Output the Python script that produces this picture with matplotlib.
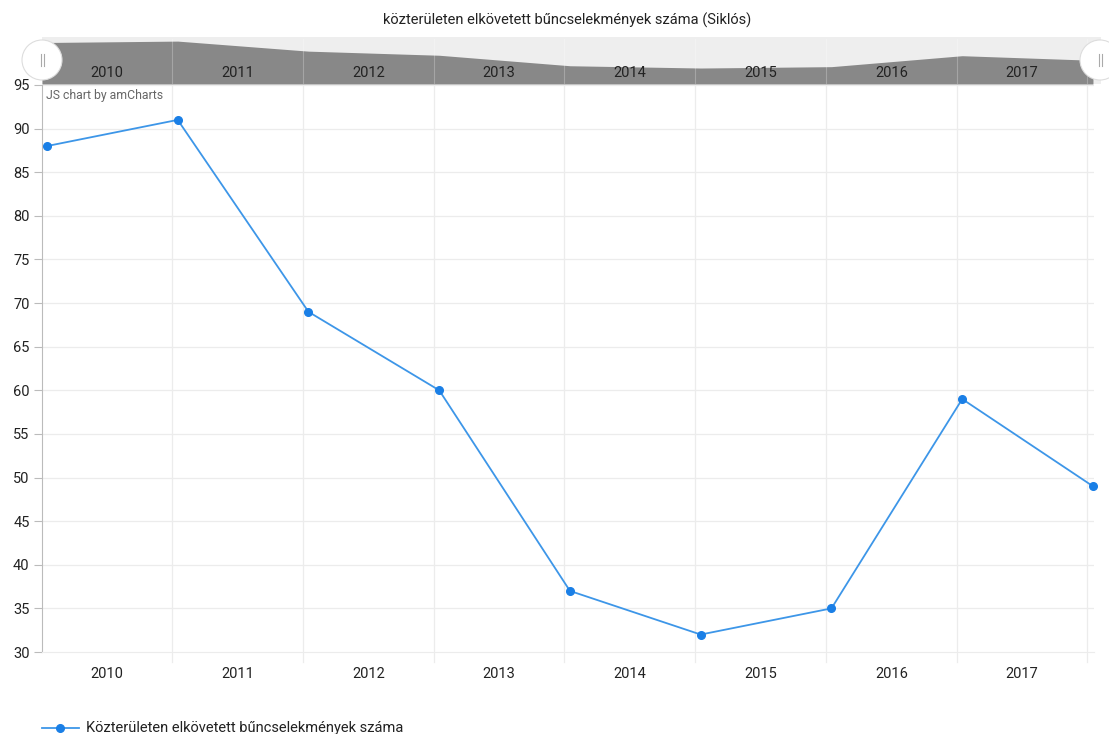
import numpy as np
import matplotlib
matplotlib.use("Agg")
import matplotlib.pyplot as plt
from matplotlib.patches import Circle, Rectangle

plt.rcParams['font.family'] = ['Roboto', 'DejaVu Sans']

# data
years = ['2010', '2011', '2012', '2013', '2014', '2015', '2016', '2017']
values = [88, 91, 69, 60, 37, 32, 35, 59, 49]
title = "közterületen elkövetett bűncselekmények száma (Siklós)"
series_name = "Közterületen elkövetett bűncselekmények száma"

W, H = 1109, 734
fig = plt.figure(figsize=(W / 100, H / 100), dpi=100)
fig.patch.set_facecolor('white')

line_col = '#3d96e8'
dot_col = '#1a7fe6'
grid_col = '#ececec'
text_col = '#222222'

x = np.arange(len(values))
x_left = -0.038
grid_x = np.arange(1, len(years) + 1) - 0.042
label_x = (np.concatenate([[x_left], grid_x[:-1]]) + grid_x) / 2
px_per_unit = 130.75

# px -> figure fraction helper
def box(x0, y0, x1, y1):
    return [x0 / W, 1 - y1 / H, (x1 - x0) / W, (y1 - y0) / H]

# main plot
ax = fig.add_axes(box(42, 85, 1094, 652))
ax.set_xlim(x_left, x_left + (1094 - 42) / px_per_unit)
ax.set_ylim(30, 95)
ax.set_yticks(np.arange(30, 96, 5))
ax.set_xticks(label_x)
ax.set_xticklabels(years)
for gx in grid_x:
    ax.plot([gx, gx], [28.9, 95], color=grid_col, lw=0.9, zorder=0, clip_on=False)
for gy in np.arange(35, 96, 5):
    ax.axhline(gy, color=grid_col, lw=0.9, zorder=0)
ax.plot(x, values, color=line_col, lw=1.3, marker='o', ms=5.5,
        markerfacecolor=dot_col, markeredgecolor=dot_col, zorder=3, clip_on=False)
for s in ['top', 'right']:
    ax.spines[s].set_visible(False)
ax.spines['bottom'].set_color(grid_col)
ax.spines['left'].set_color('#bbbbbb')
ax.tick_params(axis='y', length=6, color='#bbbbbb', labelsize=10.5, labelcolor=text_col, pad=3)
ax.tick_params(axis='x', length=0, labelsize=10.5, labelcolor=text_col, pad=11)
ax.text(4 / 1052, 0.993, "JS chart by amCharts", transform=ax.transAxes,
        ha='left', va='top', fontsize=8.8, color='#666666')

# scrollbar
sb = fig.add_axes(box(42, 37, 1101, 84))
sb.set_xlim(x_left, x_left + (1101 - 42) / px_per_unit)
sb.set_ylim(-3, 100)
sb.axis('off')
sb.add_patch(Rectangle((x_left, -3), 8.2, 103, color='#eeeeee', zorder=0))
sb.fill_between(np.concatenate([[x_left], x]), [values[0]] + values, -3,
                color='#888888', lw=0, zorder=1)
for gx in grid_x:
    sb.axvline(gx, ymax=0.95, color='white', alpha=0.25, lw=0.8, zorder=2)
for lx, lab in zip(label_x, years):
    sb.text(lx, 22, lab, ha='center', va='center', fontsize=10.5, color='#222222', zorder=3)

# overlay for title, handles and legend (pixel coordinates)
ov = fig.add_axes([0, 0, 1, 1], zorder=10)
ov.set_xlim(0, W)
ov.set_ylim(H, 0)
ov.axis('off')
ov.patch.set_alpha(0)
ov.text(567, 20, title, ha='center', va='center', fontsize=10.5, color=text_col)
for hx in [42, 1100]:
    ov.add_patch(Circle((hx, 60), 20, facecolor='white', edgecolor='#dddddd', lw=0.8, zorder=5))
    ov.plot([hx - 1.5, hx - 1.5], [54, 66], color='#aaaaaa', lw=0.8, zorder=6)
    ov.plot([hx + 1.5, hx + 1.5], [54, 66], color='#aaaaaa', lw=0.8, zorder=6)
ov.plot([42, 79], [728, 728], color=line_col, lw=1.3)
ov.plot([60], [728], marker='o', ms=5.5, color=dot_col)
ov.text(86, 728, series_name, ha='left', va='center', fontsize=10.5, color=text_col)

fig.savefig('out.png', dpi=100)
